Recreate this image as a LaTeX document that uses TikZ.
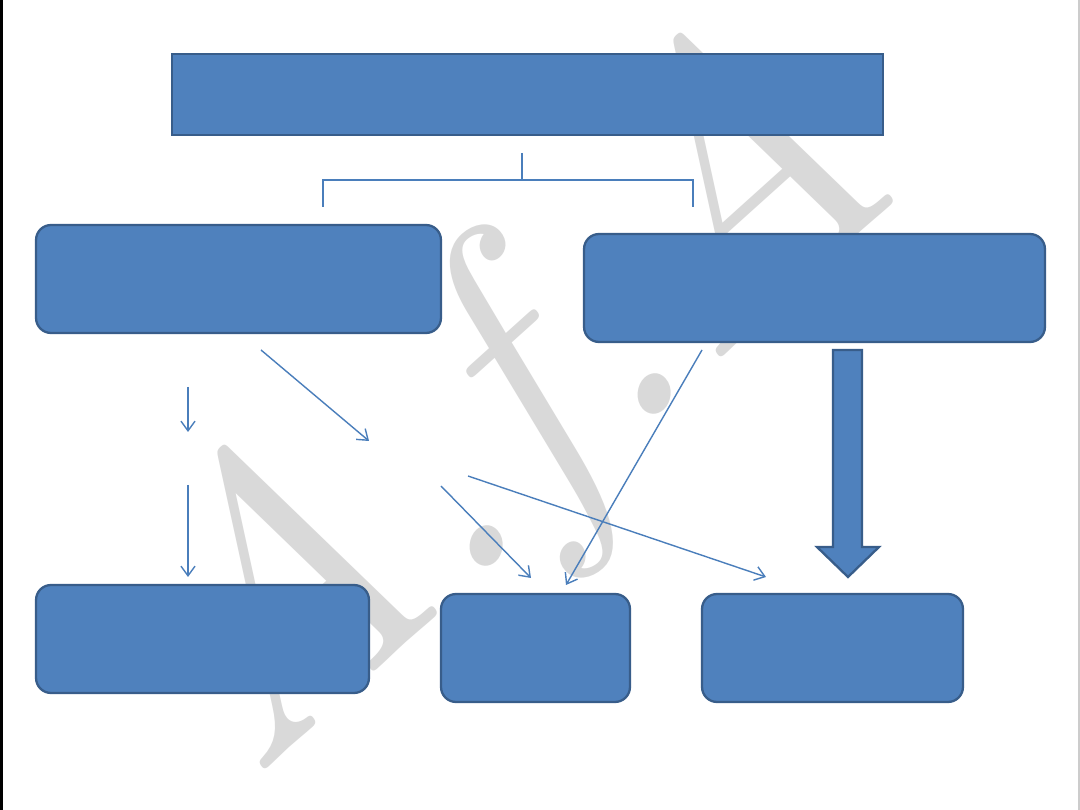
\documentclass[tikz,border=0pt]{standalone}
\usepackage{fontspec}
\usetikzlibrary{arrows.meta}
\definecolor{boxfill}{HTML}{4F81BD}
\definecolor{boxedge}{HTML}{385D8A}
\definecolor{linec}{HTML}{4A7EBB}
\definecolor{wmark}{HTML}{D9D9D9}
\tikzset{
  box/.style={draw=boxedge, fill=boxfill, line width=1.3pt, inner sep=0pt},
  rbox/.style={box, rounded corners=0.3cm},
  thin/.style={draw=linec, line width=0.8pt},
  arr/.style={thin, -{Straight Barb[length=5.5pt,width=8pt]}},
  blockarrow/.style={draw=boxedge, fill=boxfill, line width=1.3pt, line join=miter},
}
\begin{document}
\begin{tikzpicture}[x=0.02cm, y=-0.02cm]
\useasboundingbox (0,0) rectangle (1080,810);
\fill[white] (0,0) rectangle (1080,810);
\fill[black] (0,0) rectangle (3,810);
\draw[gray!40, line width=0.6pt] (1079,0) -- (1079,810);
% watermark
\node[text=wmark, rotate=42, inner sep=0pt] (wm) at (515,415)
  {\fontsize{215}{215}\selectfont\itshape A.f.A};
% boxes
\node[box, minimum width=14.22cm, minimum height=1.62cm] (top) at (527.5,94.5) {};
\node[rbox, minimum width=8.10cm, minimum height=2.16cm] (left) at (238.5,279) {};
\node[rbox, minimum width=9.22cm, minimum height=2.16cm] (right) at (814.5,288) {};
\node[rbox, minimum width=6.66cm, minimum height=2.16cm] (bl) at (202.5,639) {};
\node[rbox, minimum width=3.78cm, minimum height=2.16cm] (bm) at (535.5,648) {};
\node[rbox, minimum width=5.22cm, minimum height=2.16cm] (br) at (832.5,648) {};
% bracket connector
\coordinate (b0) at (522,153);
\coordinate (bc) at (522,180);
\coordinate (bl0) at (323,180);
\coordinate (bl1) at (323,207);
\coordinate (br0) at (693,180);
\coordinate (br1) at (693,207);
\draw[thin, line width=0.6pt] (b0) -- (bc);
\draw[thin, line width=0.6pt] (bl1) -- (bl0) -- (br0) -- (br1);
% thin arrows
\coordinate (a1s) at (188,387); \coordinate (a1e) at (188,432);
\coordinate (a2s) at (188,485); \coordinate (a2e) at (188,577);
\coordinate (a3s) at (261,350); \coordinate (a3e) at (369,441);
\coordinate (a4s) at (441,486); \coordinate (a4e) at (531,578);
\coordinate (a5s) at (468,476); \coordinate (a5e) at (766,577);
\coordinate (a6s) at (702,350); \coordinate (a6e) at (566,585);
\draw[arr] (a1s) -- (a1e);
\draw[arr] (a2s) -- (a2e);
\draw[arr] (a3s) -- (a3e);
\draw[arr] (a4s) -- (a4e);
\draw[arr] (a5s) -- (a5e);
\draw[arr] (a6s) -- (a6e);
% block arrow
\path[blockarrow] (833,350) -- (862,350) -- (862,547) -- (879,547) -- (848,577)
  -- (817,547) -- (833,547) -- cycle;
\end{tikzpicture}
\end{document}
